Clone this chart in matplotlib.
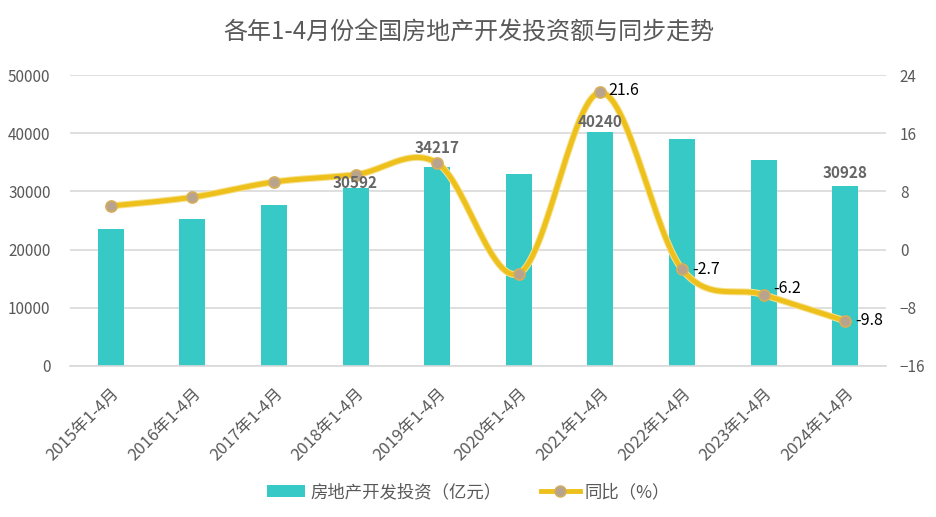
import numpy as np
import matplotlib
matplotlib.use('Agg')
import matplotlib.pyplot as plt
from matplotlib.lines import Line2D
from matplotlib.patches import Patch

plt.rcParams['font.family'] = ['Noto Sans CJK SC', 'DejaVu Sans']

# 数据
years = ['2015年1-4月', '2016年1-4月', '2017年1-4月', '2018年1-4月', '2019年1-4月',
         '2020年1-4月', '2021年1-4月', '2022年1-4月', '2023年1-4月', '2024年1-4月']
invest = [23540, 25260, 27660, 30592, 34217, 33000, 40240, 39000, 35400, 30928]
yoy = [6.0, 7.2, 9.3, 10.3, 11.9, -3.3, 21.6, -2.7, -6.2, -9.8]
bar_label_idx = [3, 4, 6, 9]
line_label_idx = [6, 7, 8, 9]

GRAY = '#595959'
BAR = '#36C9C6'
LINE = '#EDC01C'


def smooth(x, y, n=30):
    # Excel风格平滑线 (Bezier, catmull-rom控制点)
    x = np.asarray(x, float)
    y = np.asarray(y, float)
    px = np.concatenate([[x[0]], x, [x[-1]]])
    py = np.concatenate([[y[0]], y, [y[-1]]])
    xs, ys = [], []
    t = np.linspace(0, 1, n)
    for i in range(1, len(px) - 2):
        p0 = np.array([px[i], py[i]])
        p3 = np.array([px[i + 1], py[i + 1]])
        c1 = p0 + (np.array([px[i + 1], py[i + 1]]) - np.array([px[i - 1], py[i - 1]])) / 6
        c2 = p3 - (np.array([px[i + 2], py[i + 2]]) - np.array([px[i], py[i]])) / 6
        b = ((1 - t) ** 3)[:, None] * p0 + (3 * (1 - t) ** 2 * t)[:, None] * c1 \
            + (3 * (1 - t) * t ** 2)[:, None] * c2 + (t ** 3)[:, None] * p3
        xs.extend(b[:, 0])
        ys.extend(b[:, 1])
    return xs, ys


fig = plt.figure(figsize=(9.37, 5.17), dpi=100)
ax = fig.add_axes([70 / 937, 1 - 366 / 517, 816 / 937, 291 / 517])
ax2 = ax.twinx()

x = np.arange(len(years))
ax.bar(x, invest, width=0.32, color=BAR, zorder=2)
ax.set_ylim(0, 50000)
ax.set_yticks(np.arange(0, 50001, 10000))
ax.set_xlim(-0.5, len(years) - 0.5)
ax.grid(axis='y', color='#D9D9D9', linewidth=1.2, zorder=0)
ax.set_axisbelow(True)
for s in ax.spines.values():
    s.set_visible(False)
for s in ax2.spines.values():
    s.set_visible(False)
ax.spines['bottom'].set_visible(True)
ax.spines['bottom'].set_color('#D9D9D9')
ax.spines['bottom'].set_linewidth(1.2)

ax.set_xticks(x)
ax.set_xticklabels(years, rotation=45, ha='right', rotation_mode='anchor',
                   fontsize=12, color=GRAY)
ax.tick_params(axis='x', length=0, pad=14)
ax.tick_params(axis='y', length=0, labelsize=11, labelcolor=GRAY, pad=14)

sx, sy = smooth(x, yoy)
ax2.plot(sx, sy, color='#F7E08A', linewidth=5, solid_capstyle='round', zorder=3)
ax2.plot(sx, sy, color=LINE, linewidth=3.5, solid_capstyle='round', zorder=3)
ax2.plot(x, yoy, 'o', markersize=8, markerfacecolor='#B8A48E',
         markeredgecolor='#D7AE5A', markeredgewidth=1.2, zorder=4)
ax2.set_ylim(-16, 24)
ax2.set_yticks(np.arange(-16, 25, 8))
ax2.tick_params(axis='y', length=0, labelsize=11, labelcolor=GRAY, pad=10)

# 柱子标签位置 (相对柱顶), 画在折线之上
bar_label_dy = {3: 860, 4: 3260, 6: 1720, 9: 2230}
for i in bar_label_idx:
    ax2.text(x[i], invest[i] + bar_label_dy[i], str(invest[i]), ha='center', va='center',
             fontsize=11, fontweight='bold', color='#666666', zorder=6,
             transform=ax.transData)

offsets = {6: (0.1, 0.3), 7: (0.12, 0.0), 8: (0.12, 0.9), 9: (0.12, 0.0)}
for i in line_label_idx:
    dx, dy = offsets[i]
    ax2.text(x[i] + dx, yoy[i] + dy, str(yoy[i]), ha='left', va='center',
             fontsize=11.5, color='black', zorder=5)

fig.text(0.5, 1 - 33 / 517, '各年1-4月份全国房地产开发投资额与同步走势', ha='center', va='center',
         fontsize=17.3, color=GRAY)

handles = [Patch(facecolor=BAR, edgecolor='none'),
           Line2D([0], [0], color=LINE, linewidth=3.5, marker='o', markersize=8,
                  markerfacecolor='#B8A48E', markeredgecolor='#D7AE5A')]
fig.legend(handles, ['房地产开发投资（亿元）', '同比（%）'], loc='center',
           bbox_to_anchor=(0.5, 1 - 492 / 517), ncol=2, frameon=False,
           fontsize=12.5, labelcolor=GRAY, handlelength=2.2, columnspacing=2.3,
           handletextpad=0.3)

fig.savefig('out.png', dpi=100)
